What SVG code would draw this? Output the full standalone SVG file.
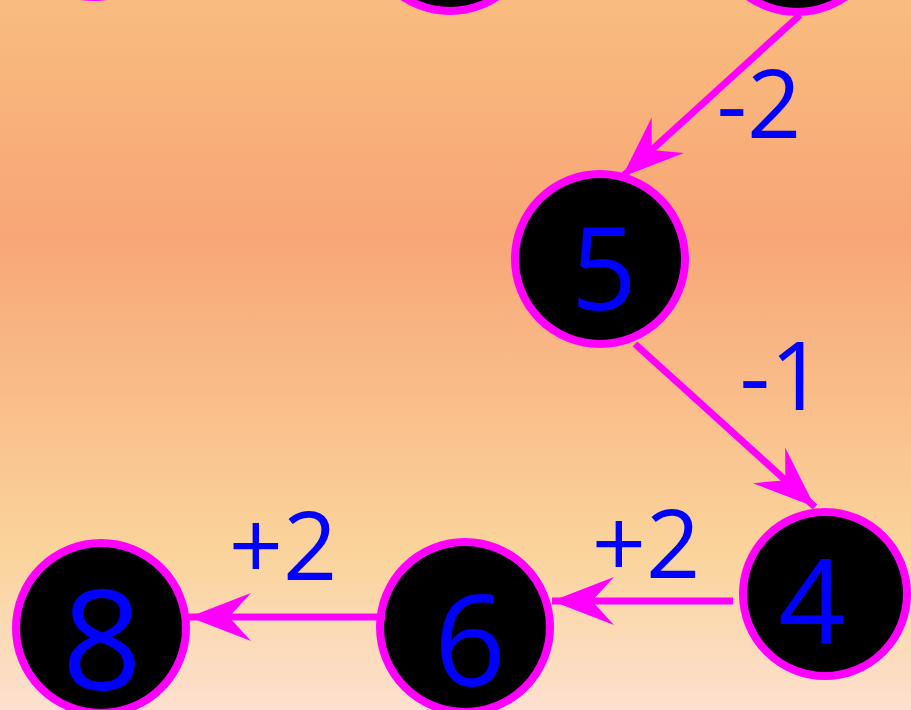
<svg xmlns="http://www.w3.org/2000/svg" width="911" height="710" viewBox="0 0 911 710">
  <defs>
    <linearGradient id="bg" x1="0" y1="0" x2="0" y2="1">
      <stop offset="0" stop-color="#f9bc7e"/>
      <stop offset="0.33" stop-color="#f8a677"/>
      <stop offset="0.78" stop-color="#fad49c"/>
      <stop offset="1" stop-color="#fde0cf"/>
    </linearGradient>
    <marker id="arr" markerUnits="userSpaceOnUse" viewBox="-64 -26 66 52" refX="0" refY="0" markerWidth="66" markerHeight="52" orient="auto">
      <path d="M0,0 L-62,-24 L-40,0 L-62,24 Z" fill="#ff00ff"/>
    </marker>
    <style>
      .node circle { fill: #000; stroke: #ff00ff; stroke-width: 8; }
      .node text { fill: #0000ff; font-family: "Open Sans", "Noto Sans", sans-serif; text-anchor: middle; }
      .edge { stroke: #ff00ff; stroke-width: 7; fill: none; marker-end: url(#arr); }
      .lbl { fill: #0000ff; font-family: "Open Sans", "Noto Sans", sans-serif; font-size: 95px; text-anchor: middle; }
    </style>
  </defs>
  <rect x="0" y="0" width="911" height="710" fill="url(#bg)"/>

  <g id="node-left-top" class="node"><circle cx="94" cy="-88" r="85"/></g>
  <g id="node-mid-top" class="node"><circle cx="450" cy="-74" r="85"/></g>
  <g id="node-right-top" class="node"><circle cx="797" cy="-73" r="85"/></g>
  <g id="node-5" class="node"><circle cx="600" cy="259" r="85"/><text x="604" y="310" font-size="115">5</text></g>
  <g id="node-4" class="node"><circle cx="825" cy="594" r="82"/><text x="812" y="643" font-size="118">4</text></g>
  <g id="node-6" class="node"><circle cx="465" cy="627" r="85"/><text x="470" y="686" font-size="126">6</text></g>
  <g id="node-8" class="node"><circle cx="101" cy="628" r="85"/><text x="102" y="690" font-size="140">8</text></g>

  <g id="connectors">
    <line class="edge" x1="800" y1="15" x2="622" y2="177"/>
    <line class="edge" x1="635" y1="344" x2="815" y2="507"/>
    <line class="edge" x1="733" y1="601" x2="552" y2="601"/>
    <line class="edge" x1="385" y1="617" x2="189" y2="617"/>
    <text class="lbl" x="759" y="138">-2</text>
    <text class="lbl" x="782" y="410">-1</text>
    <text class="lbl" x="646" y="578">+2</text>
    <text class="lbl" x="283" y="580">+2</text>
  </g>
</svg>
